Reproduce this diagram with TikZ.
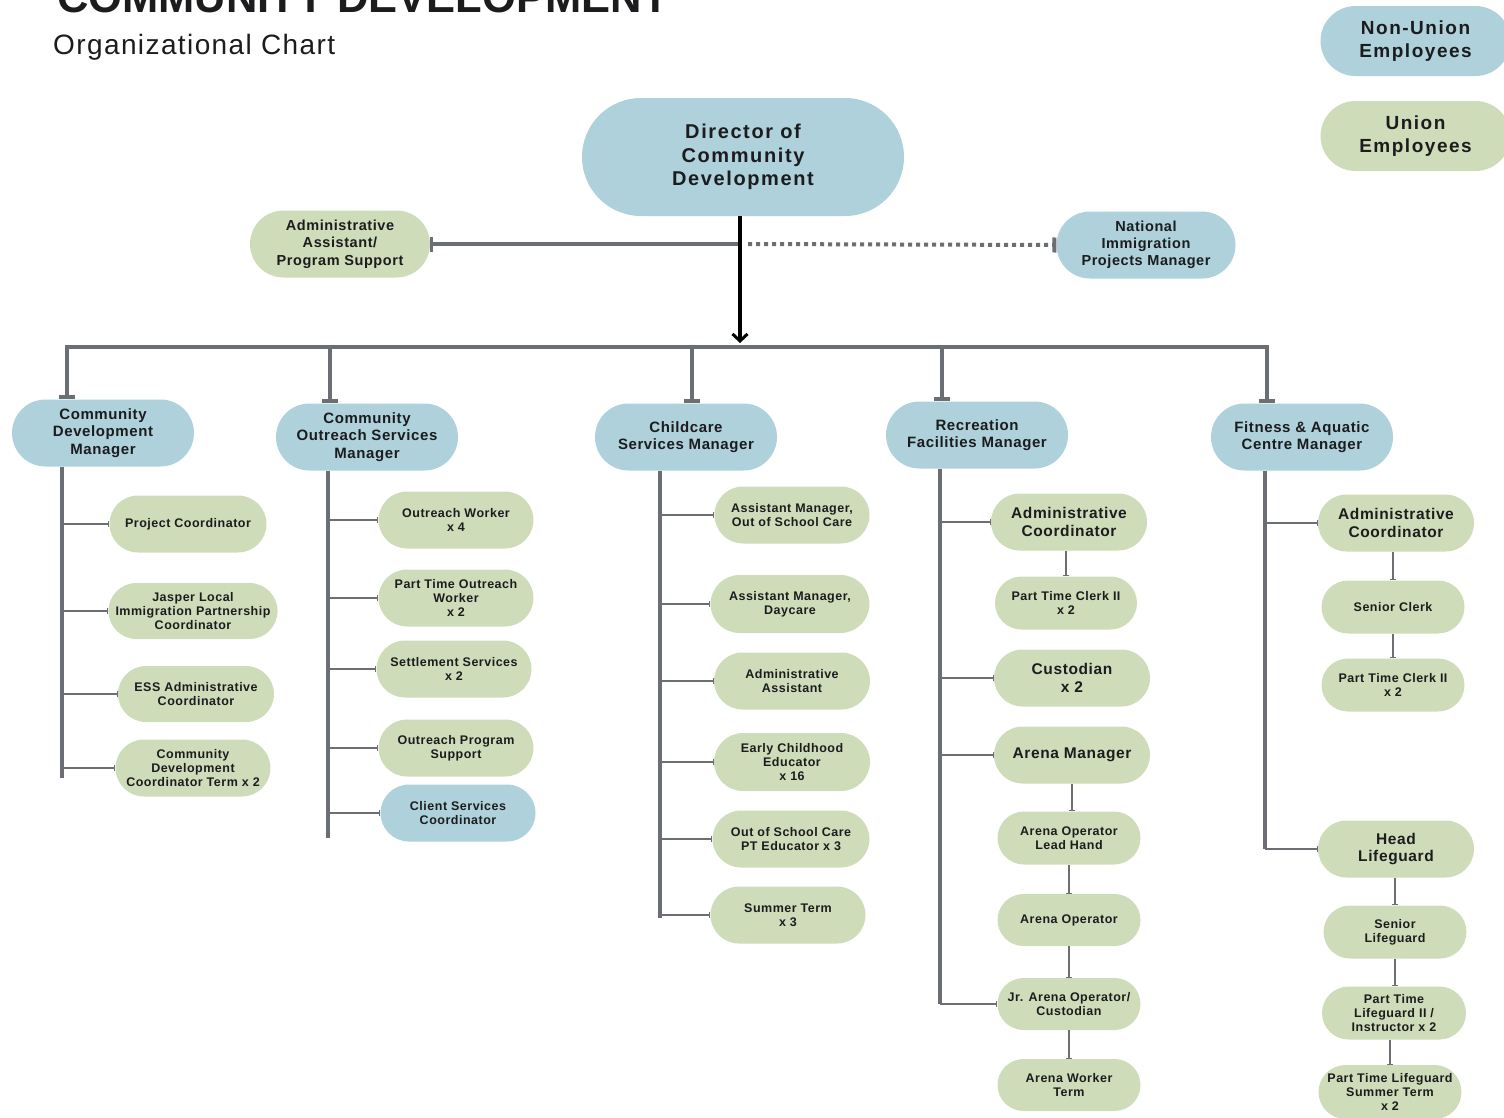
\documentclass[tikz,border=0pt]{standalone}
\usepackage{fontspec}
\setmainfont{Liberation Sans}
\newfontfamily\lbl[LetterSpace=4]{Liberation Sans}
\newfontfamily\lblw[LetterSpace=8]{Liberation Sans}
\newfontfamily\subf[LetterSpace=5]{Liberation Sans}
\usetikzlibrary{shapes.misc,arrows.meta}
\definecolor{blueF}{RGB}{174,209,219}
\definecolor{greenF}{RGB}{207,220,186}
\definecolor{lineG}{RGB}{107,110,115}
\definecolor{textC}{RGB}{28,28,30}
\tikzset{
  pill/.style={rounded rectangle, draw=none, inner sep=0pt, align=center, text=textC,
    font=\lbl\bfseries\fontsize{12.5}{14}\selectfont},
  uni/.style={pill, fill=greenF},
  non/.style={pill, fill=blueF},
  sz/.style 2 args={minimum width=#1pt, minimum height=#2pt},
  big/.style={font=\lbl\bfseries\fontsize{15.5}{17.5}\selectfont},
  mgr/.style={font=\lbl\bfseries\fontsize{15}{17.5}\selectfont, minimum width=182pt, minimum height=67pt},
  gline/.style={draw=lineG, line width=4pt, -{Bar[width=15pt,line width=3pt]}},
  dotline/.style={draw=lineG, line width=4pt, dash pattern=on 4pt off 4pt, -{Bar[width=15pt,line width=4pt]}},
  dirarrow/.style={draw=black, line width=3.5pt, -{Straight Barb[length=7pt,width=15pt,line width=3pt]}},
  busline/.style={draw=lineG, line width=4.5pt, line join=miter, {Bar[width=16pt,line width=4pt]}-{Bar[width=16pt,line width=4pt]}},
  drop/.style={draw=lineG, line width=4.5pt, -{Bar[width=16pt,line width=4pt]}},
  trunk/.style={draw=lineG, line width=4.5pt},
  branch/.style={draw=lineG, line width=2pt, -{Bar[width=6pt,line width=1pt]}},
}
\begin{document}
\begin{tikzpicture}[x=1pt,y=-1pt]
\path[use as bounding box, clip] (0,0) rectangle (1504,1117);

% titles
\node[anchor=base west, inner sep=0pt, text=textC, font=\bfseries\fontsize{43.5}{44}\selectfont] (title) at (57,12) {COMMUNITY DEVELOPMENT};
\node[anchor=base west, inner sep=0pt, text=textC, font=\subf\fontsize{28}{30}\selectfont] (sub) at (53,54) {Organizational Chart};

% legend
\node[non, sz={190}{70}, font=\lblw\bfseries\fontsize{19}{23}\selectfont] (leg1) at (1415.5,41) {Non-Union\\Employees};
\node[uni, sz={190}{70}, font=\lblw\bfseries\fontsize{19}{23}\selectfont] (leg2) at (1415.5,136) {Union\\Employees};

% top
\node[non, sz={322}{118}, font=\lblw\bfseries\fontsize{20}{23.5}\selectfont] (dir) at (743,157) {Director of\\Community\\Development};
\node[uni, sz={180}{67}, font=\lbl\bfseries\fontsize{14.5}{17.5}\selectfont] (aa) at (340,244) {Administrative\\Assistant/\\Program Support};
\node[non, sz={179}{67}, font=\lbl\bfseries\fontsize{14.5}{17}\selectfont] (nim) at (1146,245) {National\\Immigration\\Projects Manager};

% managers
\node[non, mgr] (cdm) at (103,433) {Community\\Development\\Manager};
\node[non, mgr] (cosm) at (367,437) {Community\\Outreach Services\\Manager};
\node[non, mgr] (ccm) at (686,437) {Childcare\\Services Manager};
\node[non, mgr] (rfm) at (977,435) {Recreation\\Facilities Manager};
\node[non, mgr] (fam) at (1302,437) {Fitness \& Aquatic\\Centre Manager};

% community development
\node[uni, sz={157}{57}] (pc) at (188,524) {Project Coordinator};
\node[uni, sz={155}{56}] (jl) at (193,611) {Jasper Local\\Immigration Partnership\\Coordinator};
\node[uni, sz={156}{56}] (ess) at (196,694) {ESS Administrative\\Coordinator};
\node[uni, sz={155}{57}] (cdc) at (193,768) {Community\\Development\\Coordinator Term x 2};

% community outreach
\node[uni, sz={155}{57}] (ow) at (456,520) {Outreach Worker\\x 4};
\node[uni, sz={155}{57}] (ptow) at (456,598) {Part Time Outreach\\Worker\\x 2};
\node[uni, sz={155}{57}] (ss) at (454,669) {Settlement Services\\x 2};
\node[uni, sz={155}{57}] (ops) at (456,748) {Outreach Program\\Support};
\node[non, sz={155}{57}] (csc) at (458,813) {Client Services\\Coordinator};

% childcare
\node[uni, sz={155}{57}] (amo) at (792,515) {Assistant Manager,\\Out of School Care};
\node[uni, sz={159}{58}] (amd) at (790,604) {Assistant Manager,\\Daycare};
\node[uni, sz={156}{57}] (ada) at (792,681) {Administrative\\Assistant};
\node[uni, sz={156}{58}] (ece) at (792,762) {Early Childhood\\Educator\\x 16};
\node[uni, sz={157}{57}] (osc) at (791,839) {Out of School Care\\PT Educator x 3};
\node[uni, sz={155}{57}] (st) at (788,915) {Summer Term\\x 3};

% recreation
\node[uni, big, sz={156}{57}] (rac) at (1069,522) {Administrative\\Coordinator};
\node[uni, sz={142}{53}] (rptc) at (1066,603) {Part Time Clerk II\\x 2};
\node[uni, big, sz={156}{57}] (cus) at (1072,678) {Custodian\\x 2};
\node[uni, big, sz={156}{57}] (am) at (1072,755) {Arena Manager};
\node[uni, sz={143}{53}] (aolh) at (1069,838) {Arena Operator\\Lead Hand};
\node[uni, sz={143}{52}] (ao) at (1069,920) {Arena Operator};
\node[uni, sz={143}{52}] (jao) at (1069,1004) {Jr. Arena Operator/\\Custodian};
\node[uni, sz={143}{52}] (awt) at (1069,1085) {Arena Worker\\Term};

% fitness
\node[uni, big, sz={156}{57}] (fac) at (1396,523) {Administrative\\Coordinator};
\node[uni, sz={143}{53}] (sc) at (1393,607) {Senior Clerk};
\node[uni, sz={143}{53}] (fptc) at (1393,685) {Part Time Clerk II\\x 2};
\node[uni, big, sz={156}{57}] (hl) at (1396,849) {Head\\Lifeguard};
\node[uni, sz={143}{53}] (sl) at (1395,932) {Senior\\Lifeguard};
\node[uni, sz={144}{53}] (ptl) at (1394,1013) {Part Time\\Lifeguard II /\\Instructor x 2};
\node[uni, sz={143}{54}] (pts) at (1390,1092) {Part Time Lifeguard\\Summer Term\\x 2};

% top connectors
\coordinate (arr) at (740,343);
\coordinate (dj) at (740,244);
\draw[gline] (dj) -- (aa.east);
\draw[dotline] ([xshift=8pt]dj) -- (nim.west);
\draw[dirarrow] (dj |- dir.south) -- (arr);

% bus and drops
\coordinate (b1) at (67,347);
\coordinate (b2) at (330,347);
\coordinate (b3) at (692,347);
\coordinate (b4) at (942,347);
\coordinate (b5) at (1267,347);
\draw[busline] (b1 |- cdm.north) -- (b1) -- (b5) -- (b5 |- fam.north);
\draw[drop] (b2) -- (b2 |- cosm.north);
\draw[drop] (b3) -- (b3 |- ccm.north);
\draw[drop] (b4) -- (b4 |- rfm.north);

% trunks
\coordinate (t1) at (62,778);
\coordinate (t2) at (328,838);
\coordinate (t3) at (660,918);
\coordinate (t4) at (940,1004);
\coordinate (t5) at (1265,849);
\draw[trunk] (t1 |- cdm.south) -- (t1);
\draw[trunk] (t2 |- cosm.south) -- (t2);
\draw[trunk] (t3 |- ccm.south) -- (t3);
\draw[trunk] (t4 |- rfm.south) -- (t4);
\draw[trunk] (t5 |- fam.south) -- (t5);

% branches
\foreach \n in {pc,jl,ess,cdc} \draw[branch] (t1 |- \n.west) -- (\n.west);
\foreach \n in {ow,ptow,ss,ops,csc} \draw[branch] (t2 |- \n.west) -- (\n.west);
\foreach \n in {amo,amd,ada,ece,osc,st} \draw[branch] (t3 |- \n.west) -- (\n.west);
\foreach \n in {rac,cus,am,jao} \draw[branch] (t4 |- \n.west) -- (\n.west);
\foreach \n in {fac,hl} \draw[branch] (t5 |- \n.west) -- (\n.west);

% chains
\draw[branch] (rptc.north |- rac.south) -- (rptc.north);
\draw[branch] (am.south) -- (am.south |- aolh.north);
\draw[branch] (aolh.south) -- (ao.north);
\draw[branch] (ao.south) -- (jao.north);
\draw[branch] (jao.south) -- (awt.north);
\draw[branch] (sc.north |- fac.south) -- (sc.north);
\draw[branch] (sc.south) -- (fptc.north);
\draw[branch] (sl.north |- hl.south) -- (sl.north);
\draw[branch] (sl.south) -- (sl.south |- ptl.north);
\draw[branch] (pts.north |- ptl.south) -- (pts.north);
\end{tikzpicture}
\end{document}
